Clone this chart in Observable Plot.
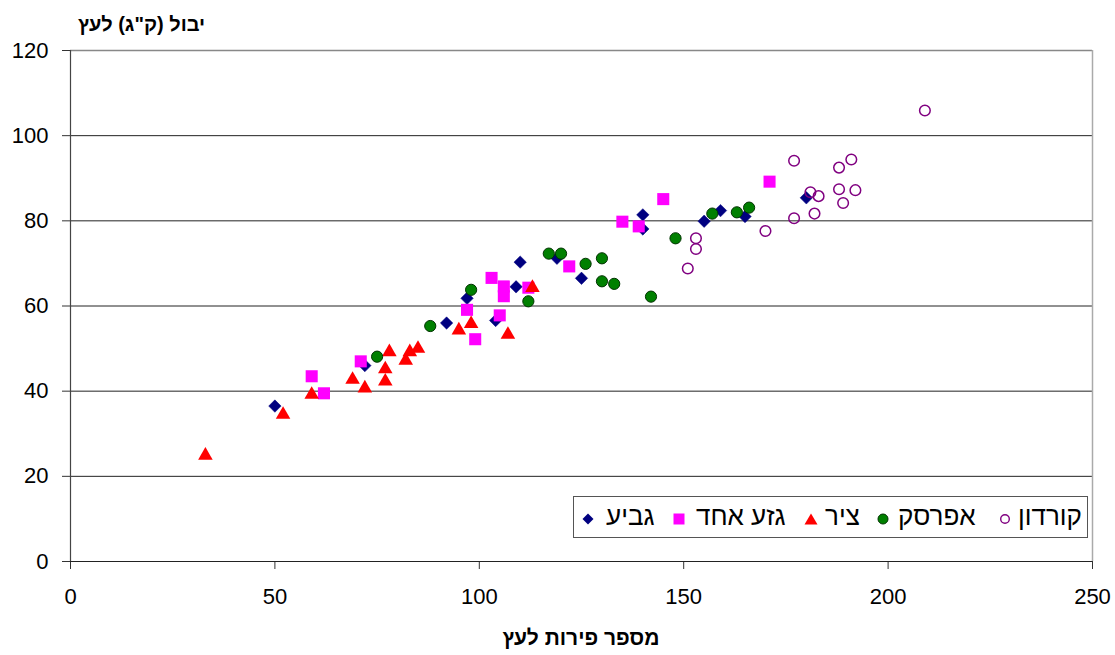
<!DOCTYPE html>
<html>
<head>
<meta charset="utf-8">
<script src="https://cdn.jsdelivr.net/npm/d3@7"></script>
<script src="https://cdn.jsdelivr.net/npm/@observablehq/plot@0.6"></script>
<style>
  body { margin: 0; background: #fff; }
  #wrap { position: relative; width: 1115px; height: 655px; font-family: "Liberation Sans", Arial, sans-serif; }
  .ttl { position: absolute; font-weight: bold; white-space: nowrap; }
  #legend { position: absolute; left: 573px; top: 496px; width: 515px; height: 42px; border: 1px solid #555;
            box-sizing: border-box; background: #fff; font-size: 26px; }
  .mk { position: absolute; top: 16px; line-height: 0; }
  .mk svg { display: block; }
  .lt { position: absolute; top: 4px; white-space: nowrap; line-height: 30px; }
</style>
</head>
<body>
<div id="wrap"></div>
<script>
const seriesNames = ["גביע", "גזע אחד", "ציר", "אפרסק", "קורדון"];
const xTicks = [0, 50, 100, 150, 200, 250];
const yTicks = [0, 20, 40, 60, 80, 100, 120];

const gaviaX = [50, 72, 92, 97, 104, 110, 109, 119, 125, 140, 140, 155, 159, 165, 180];
const gaviaY = [36.5, 46, 56, 61.8, 56.6, 70.3, 64.5, 71.2, 66.5, 81.4, 78.1, 79.9, 82.4, 81, 85.4];

const gezaX = [59, 62, 71, 97, 99, 105, 106, 106, 103, 112, 122, 135, 139, 145, 171];
const gezaY = [43.5, 39.5, 47, 59.1, 52.2, 57.8, 64.6, 62.3, 66.6, 64.3, 69.3, 79.8, 78.7, 85.1, 89.2];

const tzirX = [33, 52, 59, 69, 72, 77, 77, 78, 82, 83, 85, 95, 98, 107, 113];
const tzirY = [24.9, 34.5, 39.2, 42.7, 40.7, 45.2, 42.3, 49.2, 47.2, 49.2, 50, 54.3, 55.8, 53.3, 64.3];

const afarsekX = [75, 88, 98, 112, 117, 120, 126, 130, 130, 133, 142, 148, 157, 163, 166];
const afarsekY = [48.1, 55.3, 63.8, 61.1, 72.3, 72.3, 69.9, 71.2, 65.8, 65.2, 62.2, 75.9, 81.7, 82, 83.1];

const kordonX = [151, 153, 153, 170, 177, 177, 181, 183, 182, 188, 191, 188, 192, 189, 209];
const kordonY = [68.8, 75.9, 73.4, 77.6, 94.1, 80.6, 86.7, 85.8, 81.7, 92.5, 94.4, 87.4, 87.2, 84.2, 105.9];

const yTitle = "יבול (ק\"ג) לעץ";
const xTitle = "מספר פירות לעץ";

const toRows = (xs, ys) => xs.map((x, i) => ({x, y: ys[i]}));
const gavia = toRows(gaviaX, gaviaY);
const geza = toRows(gezaX, gezaY);
const tzir = toRows(tzirX, tzirY);
const afarsek = toRows(afarsekX, afarsekY);
const kordon = toRows(kordonX, kordonY);

const chart = Plot.plot({
  width: 1115,
  height: 655,
  marginLeft: 70,
  marginRight: 23,
  marginTop: 50,
  marginBottom: 94,
  style: { fontFamily: "'Liberation Sans', Arial, sans-serif", fontSize: "22px", color: "#000", background: "#fff", overflow: "visible" },
  x: { domain: [0, 250] },
  y: { domain: [0, 120] },
  marks: [
    Plot.ruleY([20, 40, 60, 80, 100], { stroke: "#222", strokeWidth: 1 }),
    Plot.ruleY([120], { stroke: "#888", strokeWidth: 1.5 }),
    Plot.ruleX([250], { stroke: "#aaa", strokeWidth: 1.5 }),
    Plot.axisY({ ticks: yTicks, tickSize: 8, tickPadding: 14, label: null, stroke: "#333" }),
    Plot.axisX({ ticks: xTicks, tickSize: 8, tickPadding: 19, label: null, stroke: "#333" }),
    Plot.ruleX([0], { stroke: "#444", strokeWidth: 1.2 }),
    Plot.ruleY([0], { stroke: "#222", strokeWidth: 1.2 }),
    Plot.dot(gavia, { x: "x", y: "y", symbol: "diamond2", r: 5.6, fill: "#000080", stroke: "#000080", strokeWidth: 0.5 }),
    Plot.dot(geza, { x: "x", y: "y", symbol: "square", r: 6.8, fill: "#ff00ff", stroke: "none" }),
    Plot.dot(tzir, { x: "x", y: "y", symbol: "triangle", r: 5.4, fill: "#ff0000", stroke: "none" }),
    Plot.dot(afarsek, { x: "x", y: "y", symbol: "circle", r: 5.6, fill: "#008000", stroke: "#003300", strokeWidth: 1 }),
    Plot.dot(kordon, { x: "x", y: "y", symbol: "circle", r: 5.3, fill: "none", stroke: "#800080", strokeWidth: 1.5 })
  ]
});

const wrap = document.getElementById("wrap");
wrap.appendChild(chart);

const yt = document.createElement("div");
yt.className = "ttl";
yt.dir = "rtl";
yt.style.left = "78px";
yt.style.top = "13px";
yt.style.fontSize = "20px";
yt.textContent = yTitle;
wrap.appendChild(yt);

const xt = document.createElement("div");
xt.className = "ttl";
xt.dir = "rtl";
xt.style.left = "0px";
xt.style.width = "1162px";
xt.style.textAlign = "center";
xt.style.top = "626px";
xt.style.fontSize = "21px";
xt.textContent = xTitle;
wrap.appendChild(xt);

const markers = [
  '<svg width="12" height="12" viewBox="-6 -6 12 12"><path d="M0,-5.5L5.5,0L0,5.5L-5.5,0Z" fill="#000080"/></svg>',
  '<svg width="12" height="12" viewBox="-6 -6 12 12"><rect x="-5.5" y="-5.5" width="11" height="11" fill="#ff00ff"/></svg>',
  '<svg width="14" height="12" viewBox="-7 -6 14 12"><path d="M0,-5.5L6.5,5.5L-6.5,5.5Z" fill="#ff0000"/></svg>',
  '<svg width="12" height="12" viewBox="-6 -6 12 12"><circle r="5" fill="#008000" stroke="#003300"/></svg>',
  '<svg width="12" height="12" viewBox="-6 -6 12 12"><circle r="4.3" fill="none" stroke="#800080" stroke-width="1.4"/></svg>'
];
// legend positions relative to legend box (marker left, text start)
const markerLeft = [8, 99, 230, 303, 425];
const textLeft = [32, 122, 251, 324, 444];
const legend = document.createElement("div");
legend.id = "legend";
seriesNames.forEach((name, i) => {
  const m = document.createElement("div");
  m.className = "mk";
  m.style.left = markerLeft[i] + "px";
  m.innerHTML = markers[i];
  legend.appendChild(m);
  const t = document.createElement("span");
  t.className = "lt";
  t.dir = "rtl";
  t.style.left = textLeft[i] + "px";
  t.textContent = name;
  legend.appendChild(t);
});
wrap.appendChild(legend);
</script>
</body>
</html>
